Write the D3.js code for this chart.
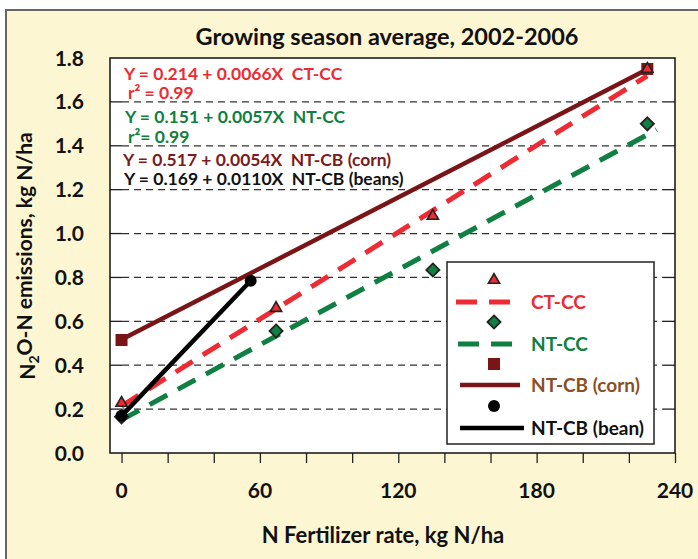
<!DOCTYPE html>
<html>
<head>
<meta charset="utf-8">
<script src="https://cdn.jsdelivr.net/npm/d3@7"></script>
<style>
  html, body { margin: 0; padding: 0; background: #fff; }
  svg { display: block; }
  text { font-family: Lato, "Open Sans", sans-serif; }
</style>
</head>
<body>
<div id="chart"></div>
<script>
// data
const ctccPoints = [[0, 0.228], [67, 0.66], [135, 1.08], [228, 1.75]];
const ntccPoints = [[0, 0.165], [67, 0.556], [135, 0.834], [228, 1.50]];
const cornPoints = [[0, 0.515], [228, 1.75]];
const beanPoints = [[0, 0.17], [56, 0.785]];

// regression fits: [intercept, slope, xStart, xEnd]
const ctccFit = [0.214, 0.0066, 0, 228];
const ntccFit = [0.151, 0.0057, 0, 232];
const cornFit = [0.517, 0.0054, 0, 228];
const beanFit = [0.169, 0.0110, 0, 56];

const yTicks = [0, 0.2, 0.4, 0.6, 0.8, 1.0, 1.2, 1.4, 1.6, 1.8];
const xMinorTicks = d3.range(0, 241, 20);
const xLabelTicks = [0, 60, 120, 180, 240];

const equations = [
  { text: 'Y = 0.214 + 0.0066X  CT-CC', color: '#ee2a33' },
  { text: 'r² = 0.99', color: '#ee2a33' },
  { text: 'Y = 0.151 + 0.0057X  NT-CC', color: '#0f7f42' },
  { text: 'r²= 0.99', color: '#0f7f42' },
  { text: 'Y = 0.517 + 0.0054X  NT-CB (corn)', color: '#7e1a1c' },
  { text: 'Y = 0.169 + 0.0110X  NT-CB (beans)', color: '#111' },
];

const RED = '#ee2a33', GREEN = '#0f7f42', MAROON = '#7a1517', BROWN = '#8a4f24';

const width = 698, height = 559;
const plot = { left: 110, top: 58, right: 675, bottom: 453 };

const svg = d3.select('#chart').append('svg')
  .attr('width', width)
  .attr('height', height);

// cream panel
svg.append('rect')
  .attr('x', 6).attr('y', 10)
  .attr('width', width + 10).attr('height', height + 10)
  .attr('fill', '#fdf6d2')
  .attr('stroke', '#666')
  .attr('stroke-width', 2);

svg.append('rect')
  .attr('x', plot.left).attr('y', plot.top)
  .attr('width', plot.right - plot.left).attr('height', plot.bottom - plot.top)
  .attr('fill', '#fff');

const x = d3.scaleLinear().domain([-5, 240]).range([plot.left, plot.right]);
const y = d3.scaleLinear().domain([0, 1.8]).range([plot.bottom, plot.top]);

// gridlines
svg.append('g')
  .selectAll('line')
  .data(yTicks.filter(d => d > 0 && d < 1.8))
  .join('line')
  .attr('x1', plot.left + 12).attr('x2', plot.right - 12)
  .attr('y1', d => y(d)).attr('y2', d => y(d))
  .attr('stroke', '#333')
  .attr('stroke-width', 1.2)
  .attr('stroke-dasharray', '7,5');

// inward ticks on both sides
const tickG = svg.append('g').attr('stroke', '#222').attr('stroke-width', 1.3);
yTicks.filter(d => d > 0 && d < 1.8).forEach(d => {
  tickG.append('line').attr('x1', plot.left).attr('x2', plot.left + 12)
    .attr('y1', y(d)).attr('y2', y(d));
  tickG.append('line').attr('x1', plot.right - 12).attr('x2', plot.right)
    .attr('y1', y(d)).attr('y2', y(d));
});

// y tick labels
svg.append('g')
  .selectAll('text')
  .data(yTicks)
  .join('text')
  .attr('x', 84)
  .attr('y', d => y(d))
  .attr('dy', '0.36em')
  .attr('text-anchor', 'end')
  .attr('font-size', 21)
  .attr('font-weight', 700)
  .attr('fill', '#111')
  .text(d => d.toFixed(1));

// x axis ticks (below axis) and labels
const xAxis = d3.axisBottom(x)
  .tickValues(xMinorTicks)
  .tickSize(10)
  .tickFormat('');
const xg = svg.append('g')
  .attr('transform', `translate(0,${plot.bottom})`)
  .call(xAxis);
xg.select('.domain').remove();
xg.selectAll('.tick line').attr('stroke', '#222').attr('stroke-width', 1.3);

svg.append('g')
  .selectAll('text')
  .data(xLabelTicks)
  .join('text')
  .attr('x', d => x(d))
  .attr('y', 490)
  .attr('dy', '0.36em')
  .attr('text-anchor', 'middle')
  .attr('font-size', 21)
  .attr('font-weight', 700)
  .attr('fill', '#111')
  .text(d => d);

// plot frame
svg.append('rect')
  .attr('x', plot.left).attr('y', plot.top)
  .attr('width', plot.right - plot.left).attr('height', plot.bottom - plot.top)
  .attr('fill', 'none')
  .attr('stroke', '#111')
  .attr('stroke-width', 1.5);

// regression lines
const fitLine = (fit) => [[fit[2], fit[0] + fit[1] * fit[2]], [fit[3], fit[0] + fit[1] * fit[3]]];
const line = d3.line().x(d => x(d[0])).y(d => y(d[1]));

const lineG = svg.append('g').attr('fill', 'none');
lineG.append('path').attr('d', line(fitLine(ntccFit)))
  .attr('stroke', GREEN).attr('stroke-width', 5).attr('stroke-dasharray', '20,12');
lineG.append('path').attr('d', line(fitLine(ctccFit)))
  .attr('stroke', RED).attr('stroke-width', 5).attr('stroke-dasharray', '20,12');
lineG.append('path').attr('d', line(fitLine(cornFit)))
  .attr('stroke', MAROON).attr('stroke-width', 4.5);

// markers
const markG = svg.append('g');
markG.selectAll('rect.corn')
  .data(cornPoints)
  .join('rect')
  .attr('class', 'corn')
  .attr('x', d => x(d[0]) - 6).attr('y', d => y(d[1]) - 6)
  .attr('width', 12).attr('height', 12)
  .attr('fill', MAROON);

markG.selectAll('path.ntcc')
  .data(ntccPoints)
  .join('path')
  .attr('class', 'ntcc')
  .attr('d', d3.symbol(d3.symbolDiamond2, 110)())
  .attr('transform', d => `translate(${x(d[0])},${y(d[1])})`)
  .attr('fill', GREEN)
  .attr('stroke', '#222')
  .attr('stroke-width', 1.8);

markG.selectAll('path.ctcc')
  .data(ctccPoints)
  .join('path')
  .attr('class', 'ctcc')
  .attr('d', d3.symbol(d3.symbolTriangle2, 90)())
  .attr('transform', d => `translate(${x(d[0])},${y(d[1])})`)
  .attr('fill', RED)
  .attr('stroke', '#222')
  .attr('stroke-width', 1.6);

svg.append('path').attr('d', line(fitLine(beanFit)))
  .attr('fill', 'none').attr('stroke', '#000').attr('stroke-width', 4.5);

markG.append('g').selectAll('circle')
  .data(beanPoints)
  .join('circle')
  .attr('cx', d => x(d[0])).attr('cy', d => y(d[1]))
  .attr('r', 6)
  .attr('fill', '#000');

// equations
svg.append('g')
  .selectAll('text')
  .data(equations)
  .join('text')
  .attr('x', (d, i) => [124, 128, 125, 128, 123, 124][i])
  .attr('y', (d, i) => [74, 93, 117, 137, 160, 179][i])
  .attr('dy', '0.35em')
  .attr('font-size', 17.5)
  .attr('font-weight', 700)
  .attr('fill', d => d.color)
  .attr('xml:space', 'preserve')
  .style('white-space', 'pre')
  .text(d => d.text);

// legend
const legend = svg.append('g');
legend.append('rect')
  .attr('x', 447).attr('y', 262)
  .attr('width', 207).attr('height', 182)
  .attr('fill', '#fff').attr('stroke', '#222').attr('stroke-width', 1.5);

const mx = 494;
legend.append('path').attr('d', d3.symbol(d3.symbolTriangle2, 90)())
  .attr('transform', `translate(${mx},280)`)
  .attr('fill', RED).attr('stroke', '#222').attr('stroke-width', 1.6);
legend.append('line').attr('x1', 456).attr('x2', 510).attr('y1', 302).attr('y2', 302)
  .attr('stroke', RED).attr('stroke-width', 5).attr('stroke-dasharray', '21,12');
legend.append('path').attr('d', d3.symbol(d3.symbolDiamond2, 110)())
  .attr('transform', `translate(${mx},322)`)
  .attr('fill', GREEN).attr('stroke', '#222').attr('stroke-width', 1.8);
legend.append('line').attr('x1', 458).attr('x2', 512).attr('y1', 344).attr('y2', 344)
  .attr('stroke', GREEN).attr('stroke-width', 5).attr('stroke-dasharray', '21,12');
legend.append('rect').attr('x', mx - 6).attr('y', 358).attr('width', 12).attr('height', 12)
  .attr('fill', MAROON);
legend.append('line').attr('x1', 460).attr('x2', 520).attr('y1', 385).attr('y2', 385)
  .attr('stroke', MAROON).attr('stroke-width', 4.5);
legend.append('circle').attr('cx', mx).attr('cy', 406).attr('r', 6).attr('fill', '#000');
legend.append('line').attr('x1', 460).attr('x2', 524).attr('y1', 428).attr('y2', 428)
  .attr('stroke', '#000').attr('stroke-width', 4.5);

const legendLabels = [
  { text: 'CT-CC', y: 302, color: RED },
  { text: 'NT-CC', y: 344, color: GREEN },
  { text: 'NT-CB (corn)', y: 385, color: BROWN },
  { text: 'NT-CB (bean)', y: 428, color: '#111' },
];
legend.selectAll('text')
  .data(legendLabels)
  .join('text')
  .attr('x', 531)
  .attr('y', d => d.y)
  .attr('dy', '0.36em')
  .attr('font-size', 19)
  .attr('font-weight', 700)
  .attr('fill', d => d.color)
  .text(d => d.text);

// title
svg.append('text')
  .attr('x', 387).attr('y', 37)
  .attr('dy', '0.36em')
  .attr('text-anchor', 'middle')
  .attr('font-size', 23.5)
  .attr('font-weight', 700)
  .attr('fill', '#111')
  .text('Growing season average, 2002-2006');

// axis titles
svg.append('text')
  .attr('x', 383).attr('y', 535)
  .attr('dy', '0.36em')
  .attr('text-anchor', 'middle')
  .attr('font-size', 22)
  .attr('font-weight', 700)
  .attr('fill', '#111')
  .text('N Fertilizer rate, kg N/ha');

const yTitle = svg.append('text')
  .attr('transform', 'translate(27,256) rotate(-90)')
  .attr('dy', '0.36em')
  .attr('text-anchor', 'middle')
  .attr('font-size', 21)
  .attr('font-weight', 700)
  .attr('fill', '#111');
yTitle.append('tspan').text('N');
yTitle.append('tspan').attr('font-size', 14).attr('dy', '0.3em').text('2');
yTitle.append('tspan').attr('dy', '-0.3em').text('O-N emissions, kg N/ha');
</script>
</body>
</html>
